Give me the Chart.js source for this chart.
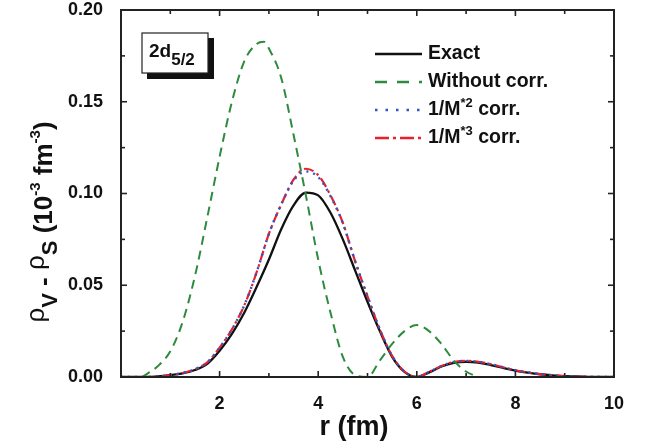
<!DOCTYPE html>
<html>
<head>
<meta charset="utf-8">
<script src="https://cdn.jsdelivr.net/npm/chart.js@4/dist/chart.umd.min.js"></script>
<style>
html,body{margin:0;padding:0;background:#fff;}
#wrap{width:649px;height:448px;}
</style>
</head>
<body>
<div id="wrap"><canvas id="c" width="649" height="448"></canvas></div>
<script>
// r grid (fm) for the three close curves
const rGrid = [0,0.25,0.5,0.75,1,1.25,1.5,1.75,2,2.25,2.5,2.75,3,3.25,3.5,3.75,4,4.25,4.5,4.75,5,5.25,5.5,5.75,6,6.25,6.5,6.75,7,7.25,7.5,7.75,8,8.25,8.5,8.75,9,9.25,9.5,9.75,10];
const exactVals = [0,0,0,0.0003,0.001,0.002,0.0038,0.0072,0.0143,0.0235,0.035,0.049,0.064,0.0805,0.0935,0.1005,0.099,0.0895,0.075,0.058,0.041,0.025,0.011,0.0028,0,0.0025,0.0057,0.0077,0.0083,0.0078,0.0065,0.005,0.0035,0.0024,0.0015,0.0009,0.0005,0.0003,0.0001,0,0];
const m2Vals = [0,0,0,0.0003,0.001,0.0022,0.0042,0.008,0.016,0.026,0.039,0.057,0.078,0.094,0.107,0.112,0.109,0.0985,0.0838,0.063,0.044,0.026,0.0115,0.003,0,0.0028,0.006,0.0082,0.0088,0.0083,0.007,0.0053,0.0037,0.0025,0.0016,0.001,0.0005,0.0003,0.0001,0,0];
const m3Vals = [0,0,0,0.0003,0.001,0.0022,0.0042,0.008,0.016,0.026,0.039,0.057,0.078,0.094,0.1075,0.1135,0.110,0.099,0.084,0.063,0.044,0.026,0.0115,0.003,0,0.0028,0.006,0.0082,0.0088,0.0083,0.007,0.0053,0.0037,0.0025,0.0016,0.001,0.0005,0.0003,0.0001,0,0];
// "Without corr." curve
const rWithout = [0.43,0.75,1,1.25,1.5,1.75,2,2.25,2.5,2.75,2.9,3,3.25,3.5,3.75,4,4.25,4.5,4.75,5,5.25,5.5,5.75,6,6.25,6.5,6.75,7,7.25];
const withoutVals = [0,0.006,0.014,0.030,0.055,0.087,0.120,0.150,0.172,0.1815,0.1827,0.179,0.163,0.132,0.099,0.064,0.035,0.011,0.001,0,0.009,0.018,0.025,0.0283,0.025,0.018,0.009,0.003,0];

const xTicks = [2,4,6,8,10];
const yTicks = [0,0.05,0.10,0.15,0.20];
const legendLabels = ["Exact","Without corr.","1/M*2 corr.","1/M*3 corr."];

const FONT = '"Liberation Sans", Arial, Helvetica, sans-serif';
const pts = (xs, ys) => xs.map((x,i)=>({x:x,y:ys[i]}));

const styles = [
  {color:'#111111', dash:[], width:2.3},
  {color:'#2e8b3e', dash:[9,6], width:2},
  {color:'#2a56c6', dash:[2,5], width:2.4},
  {color:'#e8202a', dash:[10,4,2.5,4], width:2.2}
];

const decor = {
  id:'decor',
  afterDraw(chart){
    const ctx = chart.ctx, a = chart.chartArea;
    const xs = chart.scales.x, ys = chart.scales.y;
    ctx.save();
    // frame
    ctx.strokeStyle = '#222'; ctx.lineWidth = 2; ctx.setLineDash([]);
    ctx.strokeRect(a.left, a.top, a.right-a.left, a.bottom-a.top);
    // inward ticks
    ctx.lineWidth = 1.6;
    for (let v=1; v<10; v++){
      const px = xs.getPixelForValue(v);
      const len = (v%2===0)?6:4;
      ctx.beginPath(); ctx.moveTo(px,a.bottom); ctx.lineTo(px,a.bottom-len); ctx.stroke();
      ctx.beginPath(); ctx.moveTo(px,a.top); ctx.lineTo(px,a.top+len); ctx.stroke();
    }
    for (let k=1; k<8; k++){
      const py = ys.getPixelForValue(k*0.025);
      const len = (k%2===0)?6:4;
      ctx.beginPath(); ctx.moveTo(a.left,py); ctx.lineTo(a.left+len,py); ctx.stroke();
      ctx.beginPath(); ctx.moveTo(a.right,py); ctx.lineTo(a.right-len,py); ctx.stroke();
    }
    // x title
    ctx.fillStyle = '#111';
    ctx.font = 'bold 27px '+FONT;
    ctx.textAlign = 'center'; ctx.textBaseline = 'middle';
    ctx.fillText('r (fm)', 354, 428);
    // y title (rotated, with sub/superscripts)
    ctx.save();
    ctx.translate(52, 222);
    ctx.rotate(-Math.PI/2);
    ctx.textAlign = 'left'; ctx.textBaseline = 'alphabetic';
    const pieces = [
      {t:'ρ', f:'26px '+FONT, dy:-8},
      {t:'V', f:'bold 22px '+FONT, dy:5},
      {t:' - ', f:'bold 26px '+FONT, dy:0},
      {t:'ρ', f:'26px '+FONT, dy:-8},
      {t:'S', f:'bold 22px '+FONT, dy:5},
      {t:' (10', f:'bold 26px '+FONT, dy:0},
      {t:'-3', f:'bold 15px '+FONT, dy:-12},
      {t:' fm', f:'bold 26px '+FONT, dy:0},
      {t:'-3', f:'bold 15px '+FONT, dy:-12},
      {t:')', f:'bold 26px '+FONT, dy:0}
    ];
    let total = 0;
    pieces.forEach(p=>{ctx.font=p.f; p.w=ctx.measureText(p.t).width; total+=p.w;});
    let cx = -total/2;
    pieces.forEach(p=>{ctx.font=p.f; ctx.fillText(p.t, cx, p.dy); cx+=p.w;});
    ctx.restore();
    // legend
    const lx0 = 375, lx1 = 422, tx = 428, rows = [54, 82, 110, 138];
    rows.forEach((y,i)=>{
      const s = styles[i];
      ctx.strokeStyle = s.color; ctx.lineWidth = s.width+0.3;
      ctx.setLineDash(i===1?[12,10]:(i===2?[2.5,8]:(i===3?[14,4,3,4]:[])));
      ctx.beginPath(); ctx.moveTo(lx0,y); ctx.lineTo(lx1,y); ctx.stroke();
    });
    ctx.setLineDash([]);
    ctx.fillStyle = '#111'; ctx.textAlign='left'; ctx.textBaseline='middle';
    ctx.font = 'bold 19.5px '+FONT;
    ctx.fillText(legendLabels[0], tx, rows[0]);
    ctx.fillText(legendLabels[1], tx, rows[1]);
    const drawSup = (y, base, sup, rest) => {
      let x = tx;
      ctx.font = 'bold 19.5px '+FONT; ctx.fillText(base, x, y); x += ctx.measureText(base).width;
      ctx.font = 'bold 13px '+FONT; ctx.fillText(sup, x, y-7); x += ctx.measureText(sup).width;
      ctx.font = 'bold 19.5px '+FONT; ctx.fillText(rest, x, y);
    };
    drawSup(rows[2], '1/M', '*2', ' corr.');
    drawSup(rows[3], '1/M', '*3', ' corr.');
    // state label box with shadow
    ctx.fillStyle = '#111';
    ctx.fillRect(147, 38, 67, 41);
    ctx.fillStyle = '#fff';
    ctx.fillRect(142, 33, 66, 40);
    ctx.strokeStyle = '#222'; ctx.lineWidth = 1.2;
    ctx.strokeRect(142, 33, 66, 40);
    ctx.fillStyle = '#111'; ctx.textBaseline='alphabetic';
    ctx.font = 'bold 19px '+FONT;
    ctx.fillText('2d', 149, 57);
    const w2 = ctx.measureText('2d').width;
    ctx.font = 'bold 17px '+FONT;
    ctx.fillText('5/2', 149+w2, 65);
    ctx.restore();
  }
};

const mk = (label, data, s, tension) => ({
  label, data, borderColor:s.color, borderDash:s.dash, borderWidth:s.width,
  pointRadius:0, fill:false, tension:tension, cubicInterpolationMode:'monotone'
});

new Chart(document.getElementById('c'), {
  type:'line',
  data:{
    datasets:[
      mk(legendLabels[1], pts(rWithout, withoutVals), styles[1], 0),
      mk(legendLabels[2], pts(rGrid, m2Vals), styles[2], 0.3),
      mk(legendLabels[3], pts(rGrid, m3Vals), styles[3], 0.3),
      mk(legendLabels[0], pts(rGrid, exactVals), styles[0], 0.3)
    ]
  },
  options:{
    responsive:false, animation:false,
    layout:{padding:{top:10,right:35,left:0,bottom:0}},
    plugins:{legend:{display:false}, tooltip:{enabled:false}},
    scales:{
      x:{type:'linear', min:0, max:10,
        afterBuildTicks:(s)=>{ s.ticks = xTicks.map(v=>({value:v})); },
        afterFit:(s)=>{ s.height = 71; s.paddingLeft = 0; s.paddingRight = 0; },
        grid:{display:false}, border:{display:false},
        ticks:{padding:9, color:'#111', font:{family:FONT, size:18, weight:'bold', lineHeight:1.1}, maxRotation:0}},
      y:{type:'linear', min:0, max:0.2,
        afterBuildTicks:(s)=>{ s.ticks = yTicks.map(v=>({value:v})); },
        afterFit:(s)=>{ s.width = 121; s.paddingTop = 0; s.paddingBottom = 0; },
        grid:{display:false}, border:{display:false},
        ticks:{padding:10, color:'#111', font:{family:FONT, size:18, weight:'bold', lineHeight:1.1},
          callback:(v)=>Number(v).toFixed(2)}}
    }
  },
  plugins:[decor]
});
</script>
</body>
</html>
